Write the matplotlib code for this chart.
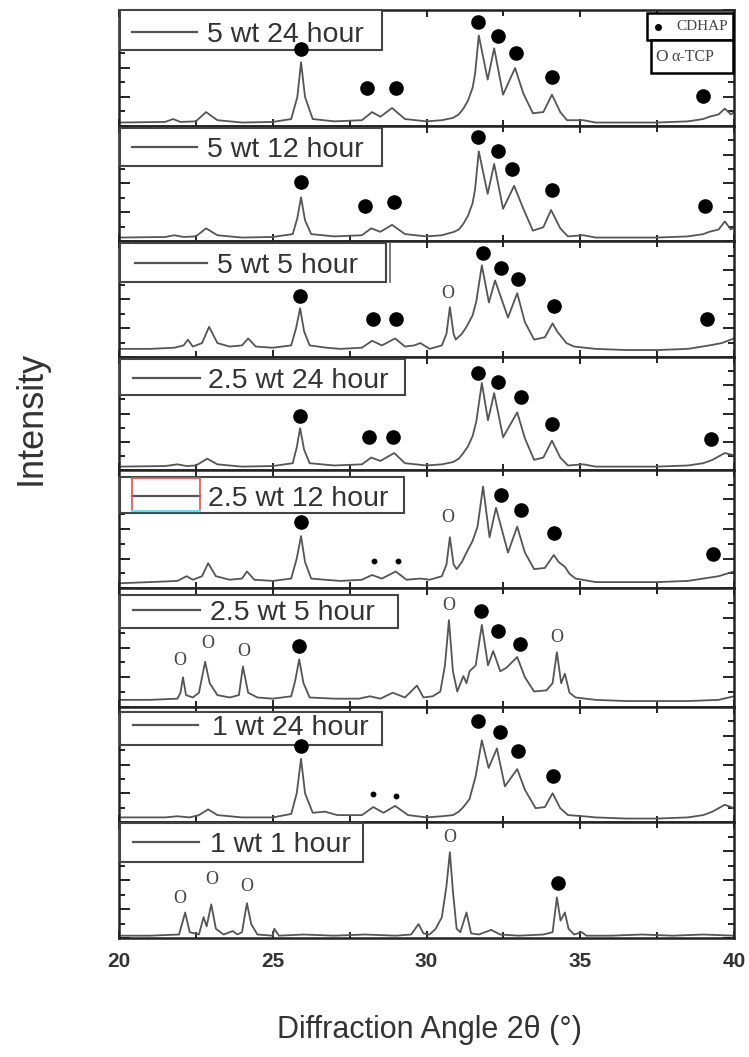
import matplotlib
matplotlib.use("Agg")
import matplotlib.pyplot as plt
from matplotlib.patches import Rectangle
from matplotlib.lines import Line2D
from matplotlib.ticker import MultipleLocator

plt.rcParams['font.family'] = ['Liberation Sans', 'DejaVu Sans']

# ---------------- data ----------------
labels = ["5 wt 24 hour", "5 wt 12 hour", "5 wt 5 hour", "2.5 wt 24 hour",
          "2.5 wt 12 hour", "2.5 wt 5 hour", "1 wt 24 hour", "1 wt 1 hour"]

x_5wt24 = [20.0, 21.5, 21.76, 22.0, 22.5, 22.83, 23.2, 24.0, 25.0, 25.6, 25.8, 25.92, 26.05, 26.3, 27.0, 27.9,
           28.23, 28.5, 28.88, 29.3, 30.0, 30.5, 30.86, 31.05, 31.2, 31.35, 31.5, 31.58, 31.7, 31.99, 32.2, 32.49,
           32.88, 33.15, 33.46, 33.8, 34.08, 34.35, 34.57, 35.1, 35.5, 36.5, 37.5, 38.5, 39.0, 39.2, 39.5, 39.7,
           39.9, 40.0]
y_5wt24 = [0.03, 0.035, 0.06, 0.035, 0.04, 0.12, 0.05, 0.03, 0.035, 0.06, 0.25, 0.55, 0.25, 0.06, 0.04, 0.05,
           0.12, 0.08, 0.155, 0.06, 0.04, 0.05, 0.07, 0.1, 0.15, 0.22, 0.33, 0.45, 0.78, 0.40, 0.67, 0.27,
           0.5, 0.28, 0.11, 0.12, 0.27, 0.12, 0.05, 0.05, 0.03, 0.03, 0.03, 0.04, 0.06, 0.08, 0.1, 0.15,
           0.1, 0.12]

x_5wt12 = [20.0, 21.5, 21.8, 22.1, 22.5, 22.83, 23.2, 24.0, 25.0, 25.65, 25.8, 25.92, 26.05, 26.25, 27.0, 27.9,
           28.2, 28.5, 28.88, 29.3, 30.0, 30.5, 30.9, 31.05, 31.2, 31.35, 31.5, 31.58, 31.7, 31.99, 32.2, 32.49,
           32.85, 33.15, 33.46, 33.8, 34.05, 34.35, 34.6, 35.1, 35.5, 36.5, 37.5, 38.5, 39.0, 39.2, 39.5, 39.7,
           39.9, 40.0]
y_5wt12 = [0.03, 0.035, 0.05, 0.035, 0.04, 0.11, 0.05, 0.03, 0.035, 0.06, 0.2, 0.38, 0.18, 0.06, 0.04, 0.05,
           0.11, 0.08, 0.14, 0.06, 0.04, 0.05, 0.08, 0.1, 0.15, 0.22, 0.33, 0.45, 0.78, 0.41, 0.67, 0.28,
           0.48, 0.28, 0.09, 0.12, 0.27, 0.11, 0.04, 0.05, 0.03, 0.03, 0.03, 0.04, 0.06, 0.08, 0.1, 0.17,
           0.1, 0.12]

x_5wt5 = [20.0, 21.0, 21.8, 22.1, 22.24, 22.4, 22.7, 22.93, 23.2, 23.6, 24.0, 24.2, 24.45, 25.0, 25.6, 25.76,
          25.89, 26.02, 26.2, 26.75, 27.2, 27.9, 28.23, 28.55, 28.98, 29.3, 29.6, 29.8, 30.1, 30.5, 30.65, 30.76,
          30.88, 30.95, 31.15, 31.3, 31.5, 31.62, 31.8, 32.03, 32.23, 32.65, 32.95, 33.2, 33.5, 33.85, 34.1, 34.25,
          34.4, 34.55, 34.8, 35.5, 36.5, 37.5, 38.5, 39.2, 39.6, 40.0]
y_5wt5 = [0.07, 0.07, 0.08, 0.1, 0.15, 0.09, 0.12, 0.26, 0.12, 0.09, 0.1, 0.16, 0.09, 0.08, 0.1, 0.25,
          0.42, 0.22, 0.1, 0.08, 0.07, 0.08, 0.14, 0.1, 0.16, 0.09, 0.1, 0.12, 0.07, 0.1, 0.2, 0.43,
          0.2, 0.15, 0.2, 0.26, 0.36, 0.48, 0.79, 0.47, 0.66, 0.34, 0.55, 0.3, 0.15, 0.17, 0.29, 0.22,
          0.17, 0.12, 0.09, 0.07, 0.06, 0.06, 0.07, 0.1, 0.12, 0.16]

x_25wt24 = [20.0, 21.5, 21.9, 22.2, 22.5, 22.87, 23.2, 24.0, 25.0, 25.65, 25.78, 25.89, 26.02, 26.2, 27.0, 27.9,
            28.2, 28.5, 28.95, 29.3, 30.0, 30.5, 30.86, 31.05, 31.2, 31.35, 31.5, 31.62, 31.8, 32.0, 32.2, 32.49,
            32.95, 33.2, 33.5, 33.8, 34.08, 34.35, 34.6, 35.1, 35.5, 36.5, 37.5, 38.5, 39.0, 39.3, 39.7, 40.0]
y_25wt24 = [0.03, 0.035, 0.05, 0.035, 0.04, 0.1, 0.05, 0.03, 0.035, 0.06, 0.2, 0.37, 0.18, 0.06, 0.04, 0.05,
            0.11, 0.08, 0.15, 0.06, 0.04, 0.05, 0.07, 0.1, 0.15, 0.21, 0.3, 0.43, 0.77, 0.44, 0.68, 0.29,
            0.51, 0.28, 0.09, 0.11, 0.26, 0.11, 0.04, 0.05, 0.03, 0.03, 0.03, 0.04, 0.06, 0.09, 0.15, 0.13]

x_25wt12 = [20.0, 21.0, 21.9, 22.2, 22.4, 22.7, 22.9, 23.15, 23.6, 24.0, 24.16, 24.4, 25.0, 25.6, 25.78, 25.92,
            26.05, 26.25, 26.7, 27.2, 27.9, 28.23, 28.55, 29.0, 29.35, 29.8, 30.1, 30.5, 30.65, 30.76, 30.88, 30.98,
            31.15, 31.3, 31.5, 31.66, 31.84, 32.05, 32.26, 32.65, 32.95, 33.2, 33.5, 33.85, 34.14, 34.3, 34.5, 34.65,
            34.85, 35.5, 36.5, 37.5, 38.5, 39.0, 39.5, 40.0]
y_25wt12 = [0.04, 0.05, 0.06, 0.1, 0.07, 0.1, 0.21, 0.1, 0.07, 0.08, 0.14, 0.07, 0.06, 0.08, 0.25, 0.44,
            0.22, 0.08, 0.07, 0.06, 0.07, 0.11, 0.08, 0.14, 0.07, 0.08, 0.07, 0.1, 0.2, 0.43, 0.2, 0.16,
            0.22, 0.3, 0.4, 0.52, 0.86, 0.43, 0.68, 0.3, 0.52, 0.3, 0.16, 0.17, 0.28, 0.22, 0.18, 0.12,
            0.08, 0.05, 0.05, 0.05, 0.06, 0.08, 0.1, 0.14]

x_25wt5 = [20.0, 21.0, 21.9, 22.0, 22.08, 22.18, 22.4, 22.6, 22.8, 22.95, 23.2, 23.6, 23.9, 24.03, 24.2, 24.5,
           25.0, 25.6, 25.73, 25.86, 26.0, 26.2, 27.0, 27.8, 28.16, 28.5, 28.9, 29.3, 29.69, 29.9, 30.2, 30.45,
           30.6, 30.73, 30.86, 31.0, 31.2, 31.3, 31.4, 31.6, 31.8, 32.0, 32.17, 32.4, 32.6, 32.95, 33.2, 33.5,
           33.9, 34.1, 34.24, 34.38, 34.5, 34.65, 34.85, 35.5, 36.5, 37.5, 38.5, 39.5, 40.0]
y_25wt5 = [0.06, 0.06, 0.07, 0.12, 0.25, 0.1, 0.08, 0.12, 0.38, 0.2, 0.1, 0.08, 0.1, 0.34, 0.12, 0.08,
           0.07, 0.09, 0.22, 0.4, 0.2, 0.08, 0.07, 0.07, 0.09, 0.07, 0.12, 0.08, 0.18, 0.08, 0.09, 0.13,
           0.35, 0.73, 0.3, 0.13, 0.26, 0.2, 0.3, 0.35, 0.69, 0.35, 0.47, 0.3, 0.33, 0.42, 0.25, 0.13,
           0.14, 0.2, 0.46, 0.2, 0.28, 0.12, 0.08, 0.06, 0.05, 0.05, 0.05, 0.06, 0.09]

x_1wt24 = [20.0, 21.5, 21.9, 22.3, 22.6, 22.9, 23.2, 24.0, 25.0, 25.6, 25.78, 25.92, 26.05, 26.3, 26.7, 27.1,
           27.9, 28.27, 28.6, 28.98, 29.4, 30.0, 30.5, 30.86, 31.05, 31.2, 31.4, 31.6, 31.8, 32.02, 32.29, 32.55,
           32.95, 33.2, 33.55, 33.85, 34.1, 34.35, 34.6, 35.1, 35.5, 36.5, 37.5, 38.5, 39.0, 39.3, 39.7, 40.0]
y_1wt24 = [0.04, 0.04, 0.05, 0.04, 0.06, 0.11, 0.06, 0.04, 0.04, 0.07, 0.25, 0.55, 0.25, 0.08, 0.09, 0.06,
           0.06, 0.13, 0.08, 0.14, 0.06, 0.04, 0.05, 0.06, 0.09, 0.13, 0.2, 0.4, 0.71, 0.47, 0.64, 0.31,
           0.46, 0.28, 0.12, 0.13, 0.25, 0.12, 0.06, 0.05, 0.04, 0.03, 0.03, 0.04, 0.06, 0.09, 0.15, 0.12]

x_1wt1 = [20.0, 21.0, 21.95, 22.05, 22.15, 22.3, 22.6, 22.75, 22.85, 23.0, 23.15, 23.4, 23.7, 23.85, 24.0, 24.16,
          24.3, 24.5, 25.0, 25.05, 25.2, 26.0, 27.0, 28.0, 29.0, 29.5, 29.74, 29.9, 30.1, 30.3, 30.5, 30.65,
          30.76, 30.86, 30.98, 31.1, 31.3, 31.45, 31.7, 32.1, 32.4, 33.0, 33.8, 34.1, 34.24, 34.36, 34.5, 34.62,
          34.8, 35.05, 35.2, 36.0, 37.0, 38.0, 39.0, 40.0]
y_1wt1 = [0.02, 0.02, 0.03, 0.12, 0.22, 0.05, 0.03, 0.18, 0.1, 0.29, 0.08, 0.03, 0.06, 0.03, 0.05, 0.3,
          0.12, 0.03, 0.02, 0.08, 0.02, 0.03, 0.02, 0.03, 0.02, 0.03, 0.12, 0.04, 0.03, 0.08, 0.18, 0.45,
          0.74, 0.4, 0.08, 0.05, 0.22, 0.04, 0.03, 0.07, 0.03, 0.02, 0.03, 0.05, 0.35, 0.15, 0.22, 0.08,
          0.03, 0.05, 0.02, 0.02, 0.03, 0.02, 0.03, 0.02]

series_x = [x_5wt24, x_5wt12, x_5wt5, x_25wt24, x_25wt12, x_25wt5, x_1wt24, x_1wt1]
series_y = [y_5wt24, y_5wt12, y_5wt5, y_25wt24, y_25wt12, y_25wt5, y_1wt24, y_1wt1]

# CDHAP (filled circle) marks per panel
cdhap_x = [[25.92, 28.06, 29.0, 31.67, 32.33, 32.9, 34.08, 38.99],
           [25.92, 28.0, 28.95, 31.67, 32.33, 32.78, 34.08, 39.06],
           [25.89, 28.27, 29.0, 31.84, 32.42, 32.98, 34.14, 39.12],
           [25.89, 28.13, 28.92, 31.67, 32.33, 33.07, 34.08, 39.25],
           [25.92, 32.42, 33.07, 34.14, 39.32],
           [25.86, 31.77, 32.33, 33.03],
           [25.92, 31.67, 32.39, 32.98, 34.11],
           [34.27]]
cdhap_y = [[0.66, 0.33, 0.33, 0.90, 0.78, 0.63, 0.42, 0.26],
           [0.51, 0.30, 0.34, 0.90, 0.78, 0.63, 0.44, 0.30],
           [0.53, 0.33, 0.33, 0.90, 0.77, 0.67, 0.44, 0.33],
           [0.48, 0.29, 0.29, 0.86, 0.78, 0.65, 0.41, 0.27],
           [0.56, 0.79, 0.66, 0.47, 0.29],
           [0.51, 0.81, 0.64, 0.53],
           [0.66, 0.88, 0.78, 0.62, 0.40],
           [0.47]]
# small CDHAP dots
small_x = [[], [], [], [], [28.3, 29.07], [], [28.27, 29.0], []]
small_y = [[], [], [], [], [0.23, 0.23], [], [0.24, 0.23], []]
# alpha-TCP ("O") marks per panel
tcp_x = [[], [], [30.7], [], [30.7], [21.98, 22.9, 24.07, 30.73, 34.24], [], [21.98, 23.03, 24.16, 30.76]]
tcp_y = [[], [], [0.55], [], [0.60], [0.39, 0.53, 0.47, 0.85, 0.58], [], [0.34, 0.50, 0.44, 0.87]]

xticks = [20, 25, 30, 35, 40]

# ---------------- layout (pixels) ----------------
W, H = 749, 1057
fig = plt.figure(figsize=(W / 100, H / 100), dpi=100)
fx = lambda px: px / W
fy = lambda py: 1 - py / H
tf = fig.transFigure

ax_left, ax_right = 119, 734
bounds = [10, 126, 241, 357, 470, 588, 707, 822, 938]
line_col = '#555555'
dark = '#222222'

box_y = [(10, 50), (128, 166), (243, 282), (359, 395), (477, 513), (595, 628), (712, 745), (823, 862)]
box_r = [382, 382, 386, 405, 404, 398, 382, 363]
text_x = [207, 207, 217, 208, 208, 210, 212, 210]
base_y = [42, 157, 273, 388, 506, 620, 735, 852]
line_x = [(132, 197), (132, 197), (135, 207), (133, 200), (132, 200), (133, 200), (133, 198), (133, 199)]

for i in range(8):
    top, bot = bounds[i], bounds[i + 1]
    ax = fig.add_axes([fx(ax_left), fy(bot), (ax_right - ax_left) / W, (bot - top) / H])
    ax.plot(series_x[i], series_y[i], color=line_col, lw=1.3, solid_joinstyle='round', zorder=2)
    ax.plot(cdhap_x[i], cdhap_y[i], 'o', color='black', ms=9.5, ls='none', zorder=6, clip_on=False)
    if small_x[i]:
        ax.plot(small_x[i], small_y[i], 'o', color='black', ms=3.2, ls='none', zorder=6)
    for tx, ty in zip(tcp_x[i], tcp_y[i]):
        ax.text(tx, ty, 'O', ha='center', va='center', fontsize=13, color='#444444',
                family=['Liberation Serif', 'DejaVu Serif'], zorder=6)
    ax.set_xlim(20, 40)
    ax.set_ylim(0, 1)
    for sp in ax.spines.values():
        sp.set_linewidth(1.8)
        sp.set_color(dark)
    ax.xaxis.set_major_locator(MultipleLocator(5))
    ax.xaxis.set_minor_locator(MultipleLocator(2.5))
    ax.yaxis.set_major_locator(MultipleLocator(0.25))
    ax.yaxis.set_minor_locator(MultipleLocator(0.125))
    ax.tick_params(axis='both', which='both', direction='in', top=True, right=True, color=dark, width=1.4)
    ax.tick_params(axis='x', which='major', length=5)
    ax.tick_params(axis='x', which='minor', length=4)
    ax.tick_params(axis='y', which='major', length=8)
    ax.tick_params(axis='y', which='minor', length=4.5)
    ax.set_yticklabels([])
    if i < 7:
        ax.set_xticklabels([])
    else:
        ax.set_xticks(xticks)
        ax.set_xticklabels([str(t) for t in xticks], fontsize=15, fontweight='bold', color='#333333')
        ax.tick_params(axis='x', which='major', pad=10)

    # sample legend box (drawn inside the panel, below the phase marks)
    y0, y1 = box_y[i]
    ax.add_artist(Rectangle((fx(ax_left + 1), fy(y1)), (box_r[i] - ax_left - 1) / W, (y1 - y0) / H,
                            transform=tf, facecolor='white', edgecolor='#444444', lw=1.5,
                            zorder=3, clip_on=False))
    ly = base_y[i] - 10
    ax.add_artist(Line2D([fx(line_x[i][0]), fx(line_x[i][1])], [fy(ly), fy(ly)], transform=tf,
                         color=line_col, lw=1.6, zorder=4, clip_on=False))
    ax.text(fx(text_x[i]), fy(base_y[i]), labels[i], transform=tf, ha='left', va='baseline',
            fontsize=20.5, color='#333333', zorder=4, clip_on=False)
    if i == 2:
        ax.add_artist(Line2D([fx(390), fx(390)], [fy(243), fy(282)], transform=tf,
                             color='#666666', lw=1.2, zorder=4, clip_on=False))
    if i == 4:
        ax.add_artist(Line2D([fx(132), fx(132), fx(200), fx(200)], [fy(511), fy(478), fy(478), fy(511)],
                             transform=tf, color='#e05050', lw=1.2, zorder=4, clip_on=False))
        ax.add_artist(Line2D([fx(132), fx(200)], [fy(511), fy(511)], transform=tf,
                             color='#60e0f0', lw=1.6, zorder=4, clip_on=False))

# phase legend (top right)
serif = ['Liberation Serif', 'DejaVu Serif']
fig.add_artist(Rectangle((fx(647), fy(40)), 86 / W, 27 / H, transform=tf,
                         facecolor='white', edgecolor='black', lw=1.8, zorder=10))
fig.add_artist(Rectangle((fx(651), fy(73)), 82 / W, 33 / H, transform=tf,
                         facecolor='white', edgecolor='black', lw=1.8, zorder=10))
fig.add_artist(Line2D([fx(658)], [fy(27)], transform=tf, marker='o', color='black',
                      ms=4, ls='none', zorder=11))
fig.text(fx(676), fy(27), 'CDHAP', ha='left', va='center', fontsize=11, color='#444444',
         family=serif, zorder=12)
fig.text(fx(655), fy(57), 'O', ha='left', va='center', fontsize=12.5, color='#444444',
         family=serif, zorder=12)
fig.text(fx(671), fy(57), 'α-TCP', ha='left', va='center', fontsize=11.5, color='#444444',
         family=serif, zorder=12)

# axis labels
fig.text(fx(429), fy(1030), 'Diffraction Angle 2θ (°)', ha='center', va='center', fontsize=22,
         color='#333333')
fig.text(fx(31), fy(418), 'Intensity', ha='center', va='center', rotation=90, fontsize=26,
         color='#333333')

fig.savefig('out.png', dpi=100, facecolor='white')
